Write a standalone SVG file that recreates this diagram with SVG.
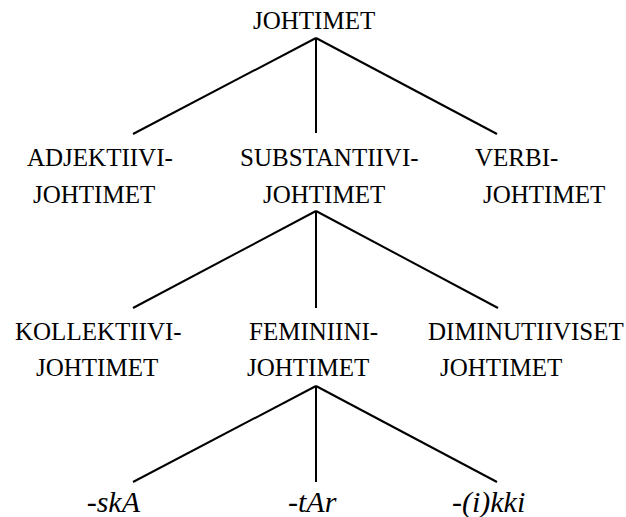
<svg xmlns="http://www.w3.org/2000/svg" width="626" height="517" viewBox="0 0 626 517" font-family="Liberation Serif, Tinos, Times New Roman, Noto Serif, FreeSerif, DejaVu Serif, serif">
  <style>
    text { fill: #000; }
    .lbl { font-size: 25px; }
    .sfx { font-size: 30px; font-style: italic; }
    .edge { stroke: #000; stroke-width: 2; fill: none; }
  </style>
  <rect width="626" height="517" fill="#fff"/>

  <g id="connectors">
    <line class="edge" x1="316" y1="38" x2="133" y2="134"/>
    <line class="edge" x1="316" y1="38" x2="316" y2="133"/>
    <line class="edge" x1="316" y1="38" x2="497" y2="134"/>
    <line class="edge" x1="316" y1="211" x2="133" y2="308"/>
    <line class="edge" x1="316" y1="211" x2="316" y2="308"/>
    <line class="edge" x1="316" y1="211" x2="498" y2="308"/>
    <line class="edge" x1="316" y1="386" x2="133" y2="482"/>
    <line class="edge" x1="316" y1="386" x2="316" y2="482"/>
    <line class="edge" x1="316" y1="386" x2="497" y2="482"/>
  </g>

  <g id="root">
    <text class="lbl" x="253" y="29">JOHTIMET</text>
  </g>

  <g id="adjektiivi">
    <text class="lbl" x="27" y="166">ADJEKTIIVI-</text>
    <text class="lbl" x="33" y="203">JOHTIMET</text>
  </g>
  <g id="substantiivi">
    <text class="lbl" x="240" y="166">SUBSTANTIIVI-</text>
    <text class="lbl" x="263" y="203">JOHTIMET</text>
  </g>
  <g id="verbi">
    <text class="lbl" x="475" y="166">VERBI-</text>
    <text class="lbl" x="483" y="203">JOHTIMET</text>
  </g>

  <g id="kollektiivi">
    <text class="lbl" x="15" y="340">KOLLEKTIIVI-</text>
    <text class="lbl" x="36" y="376">JOHTIMET</text>
  </g>
  <g id="feminiini">
    <text class="lbl" x="249" y="340">FEMINIINI-</text>
    <text class="lbl" x="247" y="376">JOHTIMET</text>
  </g>
  <g id="diminutiiviset">
    <text class="lbl" x="428" y="340">DIMINUTIIVISET</text>
    <text class="lbl" x="440" y="376">JOHTIMET</text>
  </g>

  <g id="ska">
    <text class="sfx" x="140" y="512" text-anchor="end">-skA</text>
  </g>
  <g id="tar">
    <text class="sfx" x="288" y="512">-tAr</text>
  </g>
  <g id="ikki">
    <text class="sfx" x="452" y="512">-(i)kki</text>
  </g>
</svg>
